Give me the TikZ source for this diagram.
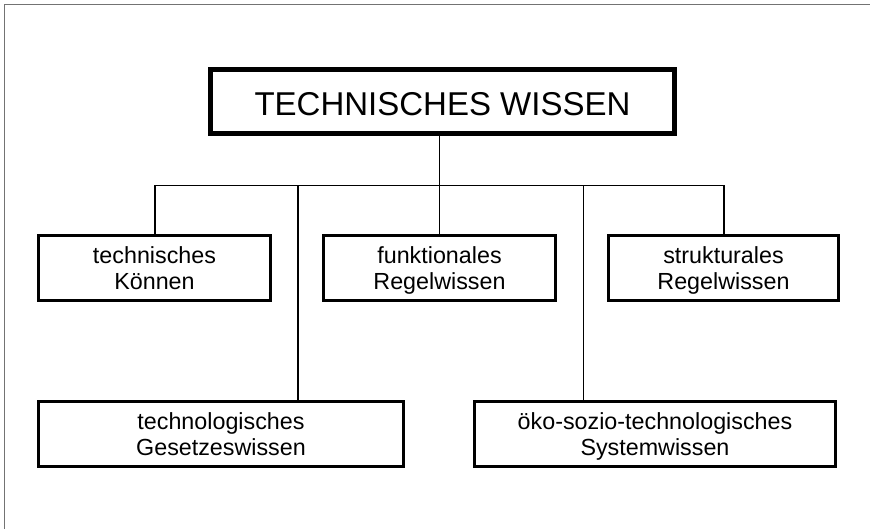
\documentclass[tikz,border=0pt]{standalone}
\usepackage{fontspec}
\setmainfont{Liberation Sans}
% two centred lines inside a box; the taller first strut sets the text a little low
\newcommand{\twolines}[2]{\rule{0pt}{25pt}#1\\\strut#2}
\begin{document}
\begin{tikzpicture}[x=1pt,y=-1pt,
  wire/.style={line width=1.5pt,line cap=rect},
  topbox/.style={draw,line width=5pt,inner sep=0pt,minimum width=464pt,minimum height=64pt,
    text height=28pt,text depth=0pt,font=\fontsize{33}{36}\selectfont},
  subbox/.style={draw,line width=3pt,inner sep=0pt,minimum height=65pt,align=center,
    font=\fontsize{23.3}{26}\selectfont},
  frameline/.style={line width=1pt,draw=black!55}]
\useasboundingbox (0,0) rectangle (870,529);
% outer frame (only top and left edges fall inside the page)
\draw[frameline] (4.5,540) -- (4.5,4.5) -- (880,4.5);

% boxes
\node[topbox] (main) at (442.5,101.5) {TECHNISCHES WISSEN};
\node[subbox,minimum width=232pt] (k) at (154.5,268) {\twolines{technisches}{Können}};
\node[subbox,minimum width=232pt] (f) at (439.5,268) {\twolines{funktionales}{Regelwissen}};
\node[subbox,minimum width=230pt] (s) at (723.5,268) {\twolines{strukturales}{Regelwissen}};
\node[subbox,minimum width=365pt] (g) at (221,434) {\twolines{technologisches}{Gesetzeswissen}};
\node[subbox,minimum width=361pt] (o) at (655,434) {\twolines{öko-sozio-technologisches}{Systemwissen}};

% distribution bus
\coordinate (busL) at (155,185.5);
\coordinate (busR) at (724,185.5);
\coordinate (gtap) at (298,185.5);
\coordinate (otap) at (583.5,185.5);
\draw[wire] (busL) -- (busR);
\draw[wire] (main.south -| f.north) -- (f.north);
\draw[wire] (busL) -- (busL |- k.north);
\draw[wire] (busR) -- (busR |- s.north);
\draw[wire] (gtap) -- (gtap |- g.north);
\draw[wire] (otap) -- (otap |- o.north);
\end{tikzpicture}
\end{document}
